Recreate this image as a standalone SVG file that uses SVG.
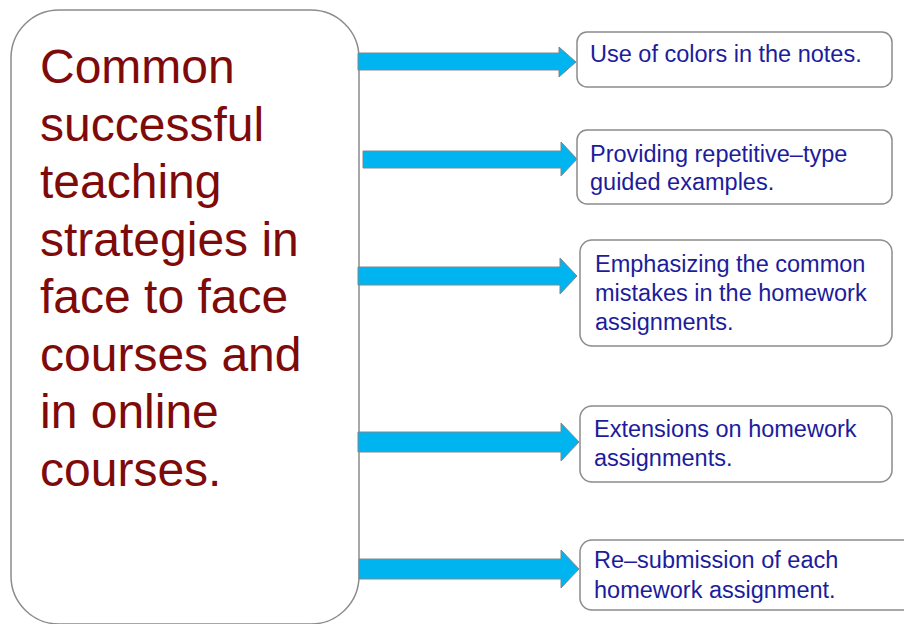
<svg xmlns="http://www.w3.org/2000/svg" width="904" height="624" viewBox="0 0 904 624">
<style>
.box{fill:#ffffff;stroke:#8c8c8c;stroke-width:1.5}
.main{font-family:"Liberation Sans",Arial,sans-serif;font-size:48px;fill:#7f0a0a}
.lbl{font-family:"Liberation Sans",Arial,sans-serif;font-size:23.5px;fill:#1c1c9c}
.arrow{fill:#00b4f0;stroke:#7a8a90;stroke-width:1}
</style>
<rect width="904" height="624" fill="#ffffff"/>
<g id="main">
<rect class="box" x="11" y="10" width="348" height="614" rx="48" ry="48"/>
<text class="main" x="40"><tspan x="40" y="83">Common</tspan><tspan x="40" y="140.5">successful</tspan><tspan x="40" y="198">teaching</tspan><tspan x="40" y="255.5">strategies in</tspan><tspan x="40" y="313">face to face</tspan><tspan x="40" y="370.5">courses and</tspan><tspan x="40" y="428">in online</tspan><tspan x="40" y="485.5">courses.</tspan></text>
</g>
<g id="connectors">
<path class="arrow" d="M358,53 H559 V47 L576,62 L559,77 V70 H358 Z"/>
<path class="arrow" d="M363,151 H561 V142 L577,159 L561,176 V168 H363 Z"/>
<path class="arrow" d="M358,267 H560 V258 L577,276 L560,294 V285 H358 Z"/>
<path class="arrow" d="M358,432 H561 V423 L579,442 L561,461 V452 H358 Z"/>
<path class="arrow" d="M359,559 H561 V550 L579,569 L561,588 V579 H359 Z"/>
</g>
<g id="n1">
<rect class="box" x="577" y="32" width="315" height="55" rx="10"/>
<text class="lbl" x="590" y="62">Use of colors in the notes.</text>
</g>
<g id="n2">
<rect class="box" x="577" y="130" width="315" height="74" rx="10"/>
<text class="lbl"><tspan x="590" y="162">Providing repetitive–type</tspan><tspan x="590" y="190">guided examples.</tspan></text>
</g>
<g id="n3">
<rect class="box" x="580" y="240" width="312" height="106" rx="12"/>
<text class="lbl"><tspan x="595" y="272">Emphasizing the common</tspan><tspan x="595" y="301">mistakes in the homework</tspan><tspan x="595" y="330">assignments.</tspan></text>
</g>
<g id="n4">
<rect class="box" x="580" y="406" width="312" height="76" rx="12"/>
<text class="lbl"><tspan x="594" y="437">Extensions on homework</tspan><tspan x="594" y="466">assignments.</tspan></text>
</g>
<g id="n5">
<rect class="box" x="580" y="540" width="340" height="70" rx="12"/>
<text class="lbl"><tspan x="594" y="568">Re–submission of each</tspan><tspan x="594" y="598">homework assignment.</tspan></text>
</g>
</svg>
